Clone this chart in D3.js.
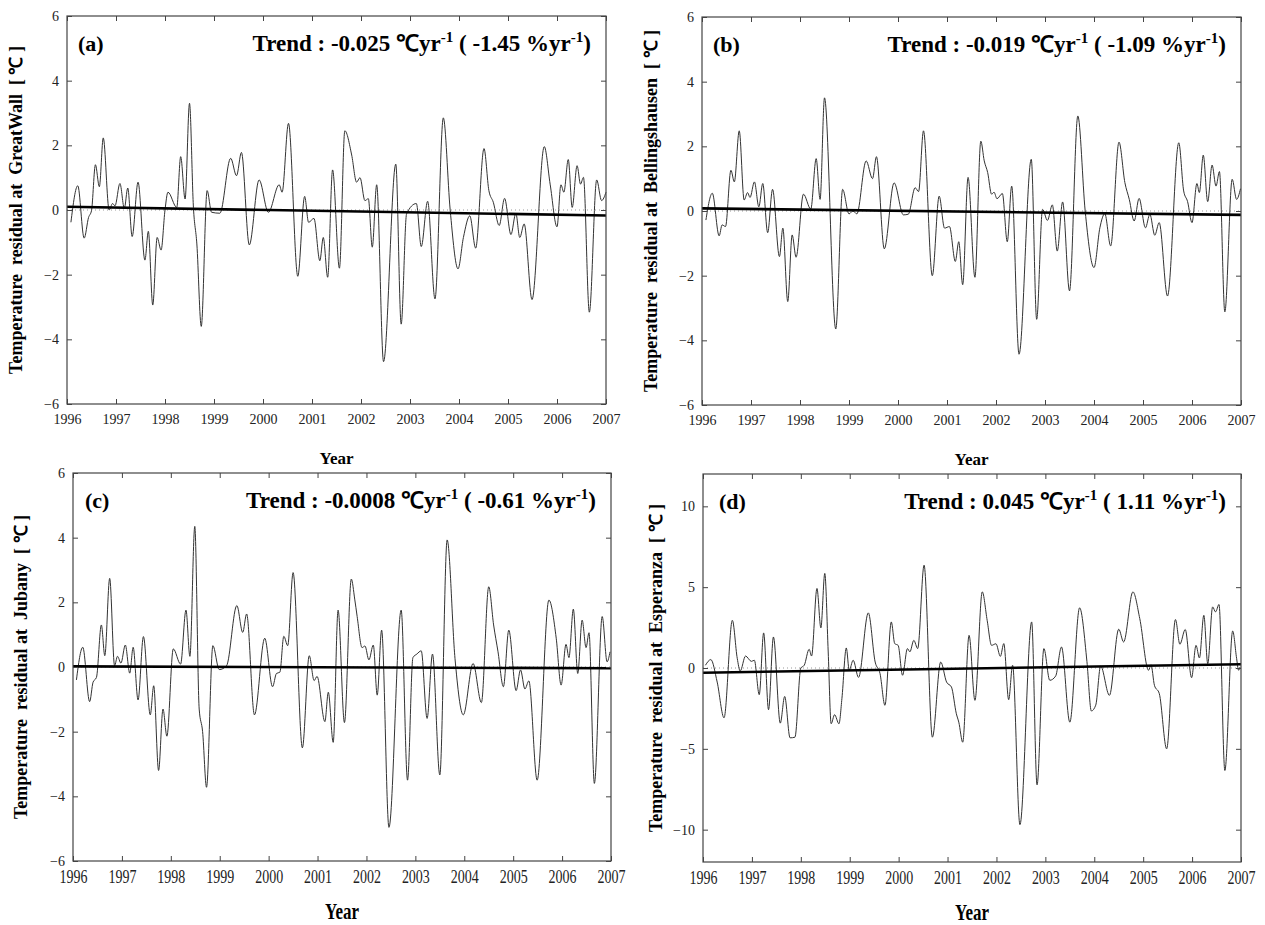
<!DOCTYPE html>
<html>
<head>
<meta charset="utf-8">
<script src="https://cdn.jsdelivr.net/npm/d3@7"></script>
<style>
  body { margin: 0; background: #fff; }
  text { font-family: "Liberation Serif", "Times New Roman", serif; }
</style>
</head>
<body>
<script>
// x tick labels
const years = d3.range(1996, 2008);

// (a) GreatWall
const aT = [1996.08,1996.22,1996.35,1996.44,1996.50,1996.58,1996.66,1996.74,1996.86,1996.93,1996.98,1997.08,1997.17,1997.24,1997.33,1997.45,1997.59,1997.66,1997.75,1997.84,1997.92,1998.00,1998.06,1998.24,1998.32,1998.41,1998.50,1998.58,1998.65,1998.74,1998.86,1998.95,1999.12,1999.34,1999.46,1999.56,1999.72,1999.92,2000.11,2000.33,2000.39,2000.52,2000.71,2000.85,2000.93,2001.04,2001.16,2001.23,2001.32,2001.42,2001.56,2001.67,2001.81,2001.91,2001.98,2002.08,2002.15,2002.23,2002.32,2002.46,2002.71,2002.82,2002.93,2003.13,2003.23,2003.36,2003.51,2003.68,2003.82,2003.98,2004.09,2004.22,2004.34,2004.51,2004.61,2004.70,2004.82,2004.93,2005.06,2005.16,2005.24,2005.33,2005.49,2005.74,2005.86,2006.00,2006.08,2006.14,2006.23,2006.31,2006.41,2006.48,2006.54,2006.66,2006.81,2006.91,2007.00];
const aV = [-0.38,0.75,-0.87,-0.23,-0.02,1.40,0.72,2.23,0.00,0.20,0.13,0.82,0.05,0.68,-0.82,0.86,-1.55,-0.66,-2.94,-0.85,-1.24,0.00,0.55,0.08,1.65,0.34,3.30,0.08,-1.05,-3.60,0.60,-0.07,-0.10,1.60,1.06,1.78,-1.08,0.93,-0.07,0.78,0.55,2.68,-2.05,0.42,-0.38,-0.26,-1.57,-0.85,-2.08,1.24,-1.80,2.45,1.70,0.86,1.00,0.29,0.35,-1.15,0.78,-4.69,1.42,-3.53,-0.12,0.20,-1.13,0.27,-2.75,2.85,0.00,-1.82,-0.85,-0.18,-1.18,1.90,0.60,0.24,-0.48,0.36,-0.76,-0.10,-0.85,-0.43,-2.77,1.96,0.80,-0.52,0.78,0.55,1.56,0.08,1.37,0.80,1.01,-3.16,0.93,0.29,0.55];
const aTrend = [0.10, -0.17];

// (b) Bellingshausen
const bT = [1996.08,1996.21,1996.35,1996.41,1996.48,1996.59,1996.66,1996.76,1996.86,1996.93,1996.98,1997.07,1997.16,1997.24,1997.34,1997.44,1997.58,1997.65,1997.75,1997.84,1997.92,1998.07,1998.22,1998.33,1998.41,1998.50,1998.73,1998.87,1999.00,1999.08,1999.16,1999.35,1999.48,1999.56,1999.72,1999.92,2000.11,2000.21,2000.35,2000.42,2000.52,2000.70,2000.84,2000.95,2001.05,2001.17,2001.24,2001.32,2001.43,2001.57,2001.69,2001.76,2001.83,2001.91,2001.96,2002.02,2002.13,2002.23,2002.32,2002.47,2002.72,2002.83,2002.95,2003.05,2003.15,2003.25,2003.36,2003.50,2003.67,2003.82,2004.00,2004.12,2004.22,2004.34,2004.51,2004.63,2004.72,2004.82,2004.92,2005.05,2005.14,2005.24,2005.33,2005.50,2005.73,2005.83,2005.91,2006.00,2006.10,2006.15,2006.23,2006.32,2006.41,2006.49,2006.56,2006.67,2006.82,2006.91,2006.99];
const bV = [-0.28,0.55,-0.77,-0.43,-0.48,1.26,0.90,2.48,0.34,0.57,0.42,0.90,0.13,0.85,-0.67,0.67,-1.41,-0.53,-2.80,-0.74,-1.43,0.52,0.06,1.62,0.36,3.50,-3.65,0.67,-0.09,0.00,-0.09,1.55,1.00,1.68,-1.17,0.87,-0.12,-0.10,0.72,0.60,2.48,-2.00,0.46,-0.53,-0.48,-1.56,-0.95,-2.28,1.04,-2.05,2.16,1.55,1.19,0.52,0.58,0.38,0.54,-0.95,0.77,-4.43,1.60,-3.35,0.05,-0.29,0.19,-1.24,0.28,-2.47,2.94,0.00,-1.75,-0.52,-0.08,-1.08,2.13,0.88,0.36,-0.31,0.39,-0.52,-0.10,-0.75,-0.36,-2.63,2.11,0.62,0.29,-0.36,0.85,0.57,1.73,0.29,1.42,0.77,1.22,-3.12,0.98,0.36,0.69];
const bTrend = [0.08, -0.12];

// (c) Jubany
const cT = [1996.07,1996.20,1996.34,1996.41,1996.48,1996.58,1996.65,1996.75,1996.85,1996.91,1996.98,1997.07,1997.16,1997.23,1997.33,1997.44,1997.58,1997.65,1997.75,1997.84,1997.92,1998.05,1998.20,1998.31,1998.39,1998.49,1998.58,1998.65,1998.73,1998.86,1998.99,1999.14,1999.35,1999.47,1999.55,1999.71,1999.92,2000.08,2000.16,2000.23,2000.31,2000.39,2000.50,2000.69,2000.83,2000.93,2000.99,2001.15,2001.22,2001.32,2001.42,2001.55,2001.69,2001.76,2001.81,2001.91,2001.97,2002.05,2002.14,2002.22,2002.31,2002.46,2002.71,2002.84,2002.95,2003.03,2003.12,2003.24,2003.35,2003.50,2003.65,2003.81,2003.98,2004.18,2004.35,2004.50,2004.60,2004.69,2004.80,2004.91,2005.06,2005.15,2005.24,2005.32,2005.49,2005.73,2005.88,2005.98,2006.08,2006.14,2006.23,2006.32,2006.41,2006.49,2006.55,2006.66,2006.82,2006.92,2006.98];
const cV = [-0.40,0.61,-1.07,-0.47,-0.32,1.30,0.35,2.74,0.04,0.33,0.12,0.68,-0.19,0.61,-1.02,0.94,-1.48,-0.58,-3.20,-1.30,-2.14,0.56,0.09,1.76,0.33,4.35,-1.30,-2.00,-3.72,0.66,-0.08,0.04,1.90,1.07,1.64,-1.48,0.89,-0.61,-0.20,-0.16,0.95,0.66,2.92,-2.50,0.35,-0.42,-0.29,-1.69,-0.78,-2.33,1.76,-1.72,2.72,2.10,1.56,0.60,0.65,0.22,0.68,-0.87,1.14,-4.96,1.76,-3.50,0.29,0.40,0.50,-1.59,0.40,-3.34,3.93,0.27,-1.48,0.11,-1.10,2.48,1.30,0.47,-0.61,1.14,-0.73,-0.09,-0.68,-0.43,-3.50,2.07,0.89,-0.56,0.70,0.29,1.79,-0.20,1.45,0.60,1.06,-3.60,1.56,0.16,0.47];
const cTrend = [0.02, -0.04];

// (d) Esperanza
const dT = [1996.05,1996.16,1996.29,1996.43,1996.60,1996.70,1996.76,1996.87,1996.99,1997.05,1997.15,1997.24,1997.34,1997.44,1997.58,1997.67,1997.78,1997.88,1998.00,1998.07,1998.17,1998.22,1998.33,1998.41,1998.49,1998.56,1998.62,1998.69,1998.78,1998.84,1998.93,1998.99,1999.07,1999.18,1999.38,1999.52,1999.62,1999.72,1999.85,1999.92,1999.99,2000.08,2000.18,2000.23,2000.31,2000.39,2000.52,2000.69,2000.86,2000.98,2001.08,2001.18,2001.23,2001.31,2001.44,2001.56,2001.71,2001.81,2001.90,2001.99,2002.08,2002.15,2002.25,2002.33,2002.48,2002.72,2002.83,2002.97,2003.09,2003.21,2003.33,2003.50,2003.70,2003.85,2003.94,2004.03,2004.13,2004.31,2004.50,2004.60,2004.79,2004.93,2005.11,2005.16,2005.23,2005.33,2005.48,2005.66,2005.75,2005.86,2005.99,2006.08,2006.15,2006.24,2006.32,2006.42,2006.48,2006.55,2006.67,2006.83,2006.91,2006.95,2006.98];
const dV = [0.17,0.52,-0.87,-3.08,2.95,0.60,-0.19,0.74,0.41,0.48,-1.65,2.17,-2.58,1.92,-3.41,-1.76,-4.32,-4.28,0.00,0.17,1.16,0.74,4.92,2.48,5.85,0.99,-3.45,-2.89,-3.45,-1.90,1.24,-0.14,0.48,-0.58,3.41,0.37,-0.35,-2.31,2.85,1.51,1.40,-0.45,1.20,1.00,1.71,1.20,6.36,-4.28,0.37,-0.87,-1.18,-2.83,-3.35,-4.59,2.02,-2.00,4.71,2.95,1.40,1.50,0.72,1.51,-1.96,0.17,-9.69,2.85,-7.23,1.20,-0.76,-0.50,1.30,-3.35,3.72,0.40,-2.66,-2.30,0.12,-1.69,2.40,1.61,4.71,3.06,-0.14,0.20,-1.07,-1.59,-5.00,3.00,1.47,2.38,-0.60,1.40,0.62,3.26,0.27,3.78,3.47,3.93,-6.34,2.29,0.60,-0.14,0.05];
const dTrend = [-0.29, 0.23];

const tick6 = [-6, -4, -2, 0, 2, 4, 6];
const tick10 = [-10, -5, 0, 5, 10];

const panels = [
  { tag: "(a)", site: "GreatWall", trend: "-0.025", pct: "-1.45", t: aT, v: aV, tr: aTrend,
    left: 67, right: 606, top: 16, bottom: 404, dom: [-6, 6], ticks: tick6, titleX: 16, tagDx: 11, tall: false },
  { tag: "(b)", site: "Bellingshausen", trend: "-0.019", pct: "-1.09", t: bT, v: bV, tr: bTrend,
    left: 702, right: 1241, top: 17, bottom: 405, dom: [-6, 6], ticks: tick6, titleX: 651, tagDx: 11, tall: false },
  { tag: "(c)", site: "Jubany", trend: "-0.0008", pct: "-0.61", t: cT, v: cV, tr: cTrend,
    left: 73, right: 611, top: 473, bottom: 861, dom: [-6, 6], ticks: tick6, titleX: 21, tagDx: 12, tall: true },
  { tag: "(d)", site: "Esperanza", trend: "0.045", pct: "1.11", t: dT, v: dV, tr: dTrend,
    left: 703, right: 1241, top: 474, bottom: 862, dom: [-12, 12], ticks: tick10, titleX: 656, tagDx: 16, tall: true }
];

const svg = d3.select("body").append("svg")
  .attr("width", 1265)
  .attr("height", 925);

panels.forEach(p => drawPanel(p));

function drawPanel(p) {
  const x = d3.scaleLinear().domain([1996, 2007]).range([p.left, p.right]);
  const y = d3.scaleLinear().domain(p.dom).range([p.bottom, p.top]);
  const g = svg.append("g");

  // dotted zero line
  g.append("line")
    .attr("x1", p.left).attr("x2", p.right)
    .attr("y1", y(0)).attr("y2", y(0))
    .attr("stroke", "#999")
    .attr("stroke-width", 1)
    .attr("stroke-dasharray", "1,3");

  // residual series
  const line = d3.line()
    .x((d, i) => x(p.t[i]))
    .y(d => y(d))
    .curve(d3.curveMonotoneX);
  g.append("path")
    .attr("d", line(p.v))
    .attr("fill", "none")
    .attr("stroke", "#333")
    .attr("stroke-width", 1);

  // linear trend
  g.append("line")
    .attr("x1", x(1996)).attr("x2", x(2007))
    .attr("y1", y(p.tr[0])).attr("y2", y(p.tr[1]))
    .attr("stroke", "#000")
    .attr("stroke-width", 2.6);

  // axes, ticks pointing inward
  const bottomAx = g.append("g")
    .attr("transform", `translate(0,${p.bottom})`)
    .call(d3.axisBottom(x).tickValues(years).tickSize(-5).tickPadding(10).tickFormat(d3.format("d")));
  g.append("g")
    .attr("transform", `translate(0,${p.top})`)
    .call(d3.axisTop(x).tickValues(years).tickSize(-5).tickFormat(""));
  g.append("g")
    .attr("transform", `translate(${p.left},0)`)
    .call(d3.axisLeft(y).tickValues(p.ticks).tickSize(-5).tickPadding(8).tickFormat(d3.format("d")));
  g.append("g")
    .attr("transform", `translate(${p.right},0)`)
    .call(d3.axisRight(y).tickValues(p.ticks).tickSize(-5).tickFormat(""));

  g.selectAll(".domain").remove();
  g.selectAll(".tick line").attr("stroke", "#444");
  g.selectAll(".tick text")
    .attr("fill", "#222")
    .style("font-family", "'Liberation Serif', serif")
    .style("font-size", "14px");

  if (p.tall) {
    bottomAx.selectAll(".tick text")
      .attr("y", 6)
      .attr("transform", "scale(1,1.4)");
  }

  // frame
  g.append("rect")
    .attr("x", p.left).attr("y", p.top)
    .attr("width", p.right - p.left).attr("height", p.bottom - p.top)
    .attr("fill", "none")
    .attr("stroke", "#444")
    .attr("stroke-width", 1.2);

  // panel tag
  g.append("text")
    .attr("x", p.left + p.tagDx).attr("y", p.top + 35)
    .style("font-size", "22px").style("font-weight", "bold")
    .text(p.tag);

  // trend text
  const tt = g.append("text")
    .attr("x", p.right - 15).attr("y", p.top + 35)
    .attr("text-anchor", "end")
    .style("font-size", "23px").style("font-weight", "bold")
    .style("white-space", "pre");
  tt.append("tspan").text(`Trend : ${p.trend} ℃yr`);
  tt.append("tspan").attr("dy", -9).style("font-size", "15px").text("-1");
  tt.append("tspan").attr("dy", 9).text(` ( ${p.pct} %yr`);
  tt.append("tspan").attr("dy", -9).style("font-size", "15px").text("-1");
  tt.append("tspan").attr("dy", 9).text(")");

  // y axis title
  g.append("text")
    .attr("transform", `translate(${p.titleX},${(p.top + p.bottom) / 2}) rotate(-90)`)
    .attr("text-anchor", "middle")
    .attr("dy", "0.35em")
    .style("font-size", "18px").style("font-weight", "bold")
    .style("white-space", "pre")
    .text(`Temperature  residual at  ${p.site}  [ ℃ ]`);

  // x axis title
  const xt = g.append("text")
    .attr("text-anchor", "middle")
    .style("font-size", "17px").style("font-weight", "bold")
    .text("Year");
  if (p.tall) {
    xt.attr("transform", `translate(${(p.left + p.right) / 2},${p.bottom + 58}) scale(1,1.35)`);
  } else {
    xt.attr("transform", `translate(${(p.left + p.right) / 2},${p.bottom + 60})`);
  }
}
</script>
</body>
</html>
